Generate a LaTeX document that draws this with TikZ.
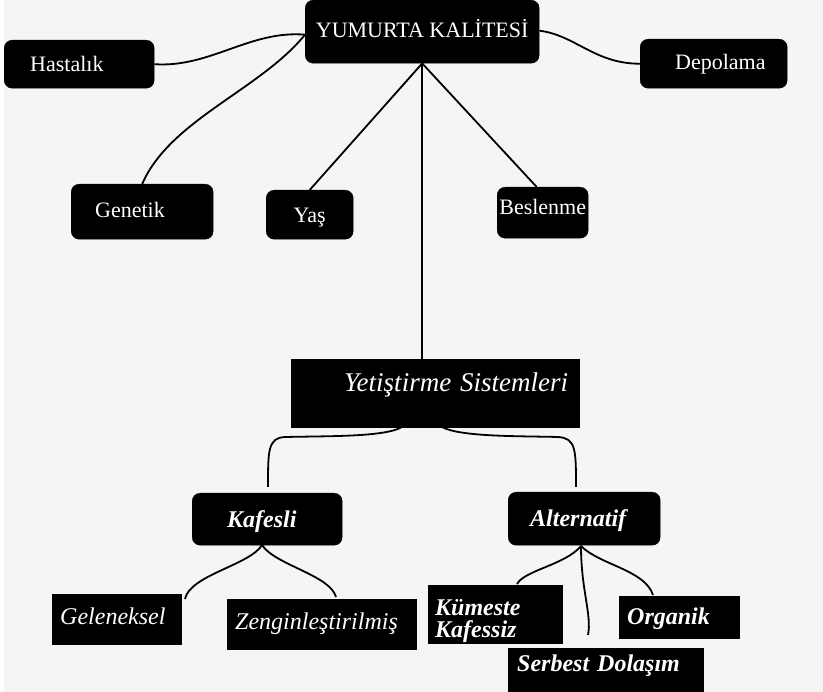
\documentclass[tikz,border=0pt]{standalone}
\usepackage{fontspec}
\setmainfont{Liberation Serif}
\begin{document}
\begin{tikzpicture}[x=1pt,y=-1pt,
  box/.style={fill=black,draw=black,text=white,inner sep=0pt,anchor=north west,
    font=\fontsize{22}{24}\selectfont,text height=15pt,text depth=0pt},
  rbox/.style={box,rounded corners=8pt},
  itl/.style={font=\fontsize{24}{22}\selectfont\itshape,text height=16pt,text depth=0pt},
  bit/.style={font=\fontsize{24}{22}\selectfont\bfseries\itshape,text height=16pt,text depth=0pt},
  conn/.style={line width=1.8pt,black}]
\useasboundingbox (0,0) rectangle (823,692);
\fill[white] (0,0) rectangle (823,692);
\fill[black!4] (4,0) rectangle (823,692);
% nodes
\node[rbox,minimum width=234pt,minimum height=63pt,text depth=3pt] (top) at (305,0) {YUMURTA KAL\.ITES\.I};
\node[rbox,minimum width=150pt,minimum height=48pt,align=left,text width=98pt,inner xsep=26pt] (hast) at (4,40) {Hastalık};
\node[rbox,minimum width=147pt,minimum height=49pt,align=left,text width=77pt,inner xsep=35pt,text depth=3pt] (dep) at (640,39) {Depolama};
\node[rbox,minimum width=142pt,minimum height=55pt,align=left,text width=94pt,inner xsep=24pt,text depth=3pt] (gen) at (71,184) {Genetik};
\node[rbox,minimum width=87pt,minimum height=49pt] (yas) at (266,190) {Yaş};
\node[rbox,minimum width=91pt,minimum height=51pt,text depth=12pt] (bes) at (497,187) {Beslenme};
\node[box,minimum width=288pt,minimum height=68pt,align=right,text width=266pt,inner xsep=11pt,
  font=\fontsize{27}{30}\selectfont\itshape,text height=18pt,text depth=22pt] (yet) at (291,359) {Yetiştirme Sistemleri};
\node[rbox,bit,minimum width=150pt,minimum height=52pt,align=left,text width=80pt,inner xsep=35pt,text depth=0pt] (kaf) at (192,493) {Kafesli};
\node[rbox,bit,minimum width=152pt,minimum height=53pt,align=left,text width=108pt,inner xsep=22pt] (alt) at (508,492) {Alternatif};
\node[box,itl,minimum width=129pt,minimum height=50pt,align=left,text width=113pt,inner xsep=8pt,text depth=5pt] (gel) at (52,594) {Geleneksel};
\node[box,itl,minimum width=189pt,minimum height=50pt,align=left,text width=173pt,inner xsep=8pt,text depth=6pt] (zen) at (227,599) {Zenginleştirilmiş};
\node[box,bit,minimum width=134pt,minimum height=58pt,align=left,text width=120pt,inner xsep=7pt,text height=,text depth=] (kum) at (428,585) {\rule{0pt}{29pt}Kümeste\\Kafessiz};
\node[box,bit,minimum width=195pt,minimum height=43pt,align=left,text width=177pt,inner xsep=9pt,text depth=13pt] (ser) at (508,648) {Serbest Dolaşım};
\node[box,bit,minimum width=120pt,minimum height=42pt,align=left,text width=104pt,inner xsep=8pt,text depth=1pt] (org) at (619,596) {Organik};
% free ends
\coordinate (kafin) at (268,487);
\coordinate (altin) at (576,487);
\coordinate (gelin) at (185,599);
\coordinate (zenin) at (336,597);
\coordinate (kumin) at (517,584);
\coordinate (serin) at (588,635);
\coordinate (orgin) at (653,595);
\coordinate (yetl) at (402,427);
\coordinate (yetr) at (442,427);
\coordinate (kafb) at (262,545);
\coordinate (altb) at (581,546);
% connectors
\draw[conn] (hast.east) .. controls (210,68) and (250,30) .. ([yshift=-3pt]top.west);
\draw[conn] (gen.north) .. controls (170,120) and (260,90) .. ([yshift=-3pt]top.west);
\draw[conn] ([yshift=1pt]top.east) .. controls (575,35) and (595,64) .. (dep.west);
\draw[conn] (top.south) -- (yas.north);
\draw[conn] (top.south) -- ([xshift=-6pt]bes.north);
\draw[conn] (top.south) -- (top.south |- yet.north);
\draw[conn] (yetl) .. controls (385,437) and (330,436) .. (285,437) .. controls (268,438) and (268,450) .. (kafin);
\draw[conn] (yetr) .. controls (460,437) and (520,436) .. (558,437) .. controls (576,438) and (576,450) .. (altin);
\draw[conn] (kafb) .. controls (250,565) and (190,575) .. (gelin);
\draw[conn] (kafb) .. controls (275,565) and (330,575) .. (zenin);
\draw[conn] (altb) .. controls (565,565) and (525,570) .. (kumin);
\draw[conn] (altb) .. controls (581,590) and (592,615) .. (serin);
\draw[conn] (altb) .. controls (600,565) and (645,570) .. (orgin);
\end{tikzpicture}
\end{document}
